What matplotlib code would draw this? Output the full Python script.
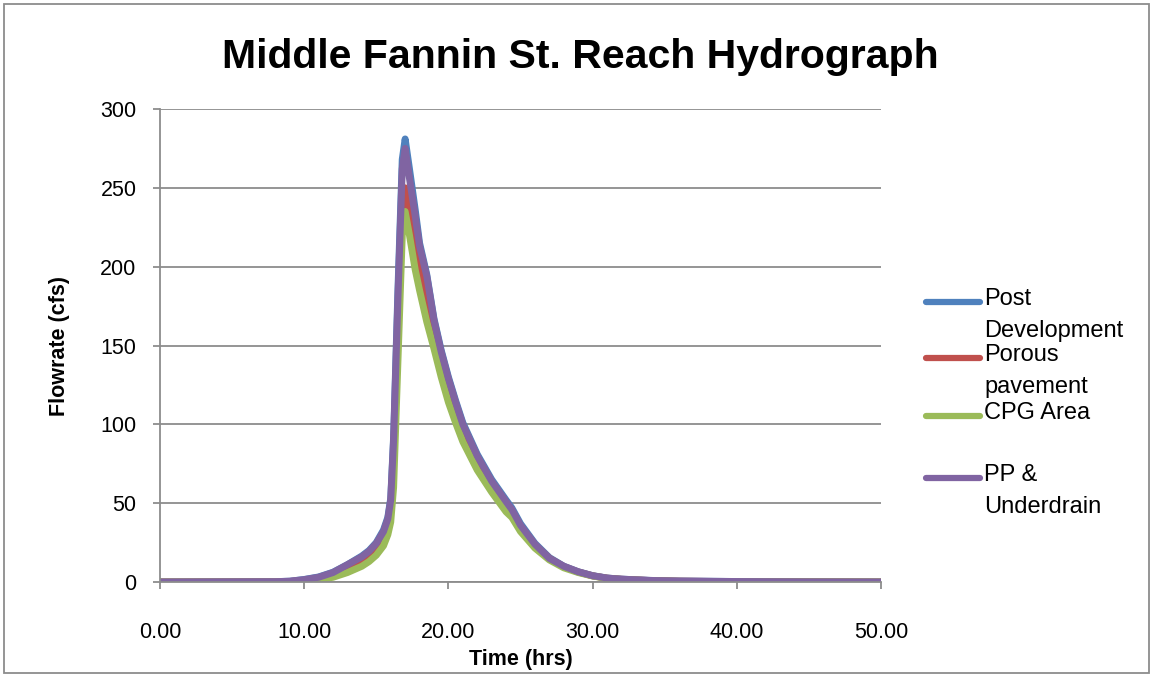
import matplotlib
matplotlib.use("Agg")
from matplotlib import pyplot as plt
from matplotlib.lines import Line2D
from matplotlib.patches import Rectangle

# hydrograph values (time in hrs, flow in cfs)
time_hrs = [0, 8, 9, 10, 11, 12, 13, 14, 14.5, 15, 15.5, 15.8, 16.0, 16.2, 16.5, 16.8,
            17.0, 17.3, 17.7, 18.0, 18.5, 19.0, 19.5, 20.0, 20.5, 21.0, 22.0, 23.0, 24.0,
            24.4, 25.0, 26.0, 27.0, 28.0, 29.0, 30.0, 31.0, 32.0, 34.0, 36.0, 40.0, 45.0, 50.0]

post_dev = [0, 0.2, 0.5, 1.6, 3.2, 6.2, 11, 16.5, 20, 25, 33, 41, 53, 92, 185, 268,
            281, 262, 236, 215, 195, 167, 147, 130, 115, 101, 81, 65, 52,
            47, 37, 24.5, 15.5, 10, 6.5, 4, 2.5, 1.8, 1.0, 0.6, 0.3, 0.1, 0]

porous = [0, 0.1, 0.3, 1.0, 2.4, 4.8, 9, 13.5, 17, 21.5, 28.5, 36, 46, 80, 165, 240,
          250, 236, 215, 201, 181, 159, 140, 123, 109, 96, 77, 62, 49,
          44.5, 35, 23.5, 15, 9.7, 6.3, 3.9, 2.4, 1.7, 0.9, 0.5, 0.2, 0.1, 0]

cpg_area = [0, 0, 0.1, 0.5, 1.5, 3, 6, 10, 13, 17, 23, 30, 38, 60, 140, 220,
            235, 220, 198, 185, 165, 148, 130, 114, 101, 89, 71, 57, 44.5,
            41, 32, 21.5, 14, 9, 6, 3.8, 2.3, 1.6, 0.8, 0.4, 0.2, 0.1, 0]

pp_underdrain = [0, 0.2, 0.5, 1.5, 3, 6, 11, 16, 19.5, 24.5, 32, 40, 52, 90, 180, 262,
                 275, 256, 232, 213, 194, 166, 146, 129, 114, 100, 80, 64, 51,
                 46, 36, 24, 15, 10, 6.5, 4, 2.5, 1.8, 1.0, 0.6, 0.3, 0.1, 0]

series_labels = ["Post\nDevelopment", "Porous\npavement", "CPG Area", "PP &\nUnderdrain"]
series_colors = ["#4F81BD", "#C0504D", "#9BBB59", "#8064A2"]

plt.rcParams['font.family'] = ['Liberation Sans', 'DejaVu Sans']

fig = plt.figure(figsize=(11.53, 6.77), dpi=100)
ax = fig.add_axes([160 / 1153, 1 - 582 / 677, (881 - 160) / 1153, (582 - 109) / 677])

for values, color in zip([post_dev, porous, cpg_area, pp_underdrain], series_colors):
    ax.plot(time_hrs, values, color=color, linewidth=5, solid_capstyle="round",
            solid_joinstyle="round")

ax.set_xlim(0, 50)
ax.set_ylim(0, 300)
ax.set_xticks(range(0, 51, 10))
ax.set_xticklabels(["%.2f" % v for v in range(0, 51, 10)])
ax.set_yticks(range(0, 301, 50))
ax.grid(axis="y", color="#8c8c8c", linewidth=1.3)
ax.set_axisbelow(True)
for side in ["top", "right"]:
    ax.spines[side].set_visible(False)
for side in ["left", "bottom"]:
    ax.spines[side].set_color("#8c8c8c")
    ax.spines[side].set_linewidth(1.3)
ax.tick_params(colors="#8c8c8c", labelcolor="black", labelsize=15.5, length=5, width=1.3)
ax.tick_params(axis="x", pad=24)
ax.tick_params(axis="y", pad=12)

ax.set_xlabel("Time (hrs)", fontsize=15.5, fontweight="bold", labelpad=4)
ax.set_ylabel("Flowrate (cfs)", fontsize=15.5, fontweight="bold", labelpad=22)
fig.text(580 / 1153, 1 - 57 / 677, "Middle Fannin St. Reach Hydrograph",
         fontsize=29.5, fontweight="bold", ha="center", va="center")

# legend drawn by hand so the line sits at the first text line, as in Excel
legend_y = [302, 358, 416, 478]
for label, color, ypix in zip(series_labels, series_colors, legend_y):
    yf = 1 - ypix / 677
    fig.add_artist(Line2D([926 / 1153, 980 / 1153], [yf, yf], color=color,
                          linewidth=4.5, solid_capstyle="round"))
    fig.text(984 / 1153, yf + 14 / 677, label, fontsize=17, ha="left", va="top",
             linespacing=1.6)

fig.add_artist(Rectangle((4 / 1153, 4 / 677), 1145 / 1153, 669 / 677,
                         transform=fig.transFigure, fill=False,
                         edgecolor="#8c8c8c", linewidth=1.3))

fig.savefig("out.png", dpi=100)
